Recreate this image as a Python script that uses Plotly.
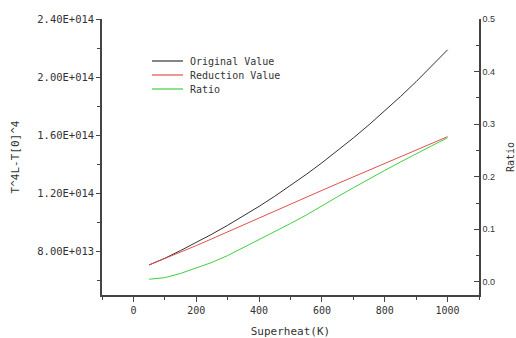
import plotly.graph_objects as go

superheat = [50, 100, 150, 200, 250, 300, 350, 400, 450, 500,
             550, 600, 650, 700, 750, 800, 850, 900, 950, 1000]
original_value = [7.07e13, 7.53e13, 8.06e13, 8.61e13, 9.19e13, 9.80e13, 1.043e14, 1.110e14,
                  1.180e14, 1.253e14, 1.330e14, 1.410e14, 1.494e14, 1.581e14, 1.672e14,
                  1.767e14, 1.866e14, 1.969e14, 2.076e14, 2.188e14]
reduction_value = [7.07e13, 7.50e13, 7.95e13, 8.40e13, 8.87e13, 9.35e13, 9.85e13, 1.033e14,
                   1.080e14, 1.127e14, 1.174e14, 1.220e14, 1.267e14, 1.313e14, 1.360e14,
                   1.406e14, 1.452e14, 1.498e14, 1.544e14, 1.590e14]
ratio = [0.005, 0.008, 0.016, 0.026, 0.037, 0.050, 0.065, 0.080, 0.095, 0.111,
         0.127, 0.145, 0.162, 0.179, 0.196, 0.212, 0.228, 0.244, 0.259, 0.274]

series_names = ["Original Value", "Reduction Value", "Ratio"]
series_colors = ["#333333", "#e05050", "#40d040"]

x_ticks = [0, 200, 400, 600, 800, 1000]
y_ticks = [8e13, 1.2e14, 1.6e14, 2.0e14, 2.4e14]
y_ticktext = ["8.00E+013", "1.20E+014", "1.60E+014", "2.00E+014", "2.40E+014"]
y_minor = [6e13, 1.0e14, 1.4e14, 1.8e14, 2.2e14]
y2_ticks = [0.0, 0.1, 0.2, 0.3, 0.4, 0.5]
y2_ticktext = ["0.0", "0.1", "0.2", "0.3", "0.4", "0.5"]

MONO = "DejaVu Sans Mono"
TXT = "#333333"

fig = go.Figure()
fig.add_trace(go.Scatter(x=superheat, y=original_value, mode="lines", name=series_names[0],
                         line=dict(color=series_colors[0], width=1), yaxis="y"))
fig.add_trace(go.Scatter(x=superheat, y=reduction_value, mode="lines", name=series_names[1],
                         line=dict(color=series_colors[1], width=1), yaxis="y"))
fig.add_trace(go.Scatter(x=superheat, y=ratio, mode="lines", name=series_names[2],
                         line=dict(color=series_colors[2], width=1), yaxis="y2"))

# legend drawn as samples + labels (paper coords)
L, R, T, B = 102, 37, 19, 43
W, H = 516, 338
pw, ph = W - L - R, H - T - B
def px(xp): return (xp - L) / pw
def py(yp): return (H - B - yp) / ph
for i, (nm, col) in enumerate(zip(series_names, series_colors)):
    yy = py(61 + i * 14)
    fig.add_shape(type="line", xref="paper", yref="paper", x0=px(152), x1=px(183), y0=yy, y1=yy,
                  line=dict(color=col, width=1.2))
    fig.add_annotation(xref="paper", yref="paper", x=px(188), y=yy, text=nm, showarrow=False,
                       xanchor="left", yanchor="middle", font=dict(family=MONO, size=10, color=TXT))

fig.update_layout(
    width=W, height=H,
    margin=dict(l=L, r=R, t=T, b=B, autoexpand=False),
    paper_bgcolor="white", plot_bgcolor="white",
    showlegend=False,
    xaxis=dict(range=[-100, 1100], tickvals=x_ticks, ticktext=[str(v) for v in x_ticks],
               automargin=False,
               showgrid=False, zeroline=False, showline=True, linecolor="#444", linewidth=1.5,
               ticks="outside", ticklen=5, tickcolor="#444", tickwidth=1,
               minor=dict(tickvals=[-100, 100, 300, 500, 700, 900, 1100], ticks="outside",
                          ticklen=3, tickcolor="#444"),
               tickfont=dict(family=MONO, size=10, color=TXT),
               title=dict(text="Superheat(K)", font=dict(family=MONO, size=11, color=TXT), standoff=14)),
    yaxis=dict(range=[5e13, 2.4e14], tickvals=y_ticks, ticktext=y_ticktext,
               automargin=False,
               showgrid=False, zeroline=False, showline=True, linecolor="#444", linewidth=1.5,
               ticks="outside", ticklen=4, tickcolor="#444",
               minor=dict(tickvals=y_minor, ticks="outside", ticklen=3, tickcolor="#444"),
               tickfont=dict(family=MONO, size=10.5, color=TXT),
               title=dict(text="T^4L-T[0]^4", font=dict(family=MONO, size=11, color=TXT), standoff=15)),
    yaxis2=dict(range=[-0.025, 0.5], tickvals=y2_ticks, ticktext=y2_ticktext, overlaying="y", side="right",
                automargin=False,
                showgrid=False, zeroline=False, showline=True, linecolor="#444", linewidth=1.5,
                ticks="inside", ticklen=5, tickcolor="#444",
                minor=dict(tickvals=[0.05, 0.15, 0.25, 0.35, 0.45], ticks="inside", ticklen=3, tickcolor="#444"),
                tickfont=dict(family="Liberation Sans", size=9, color=TXT),
                title=dict(text="Ratio", font=dict(family=MONO, size=10, color=TXT), standoff=17)),
)

fig.write_html("out.html")
